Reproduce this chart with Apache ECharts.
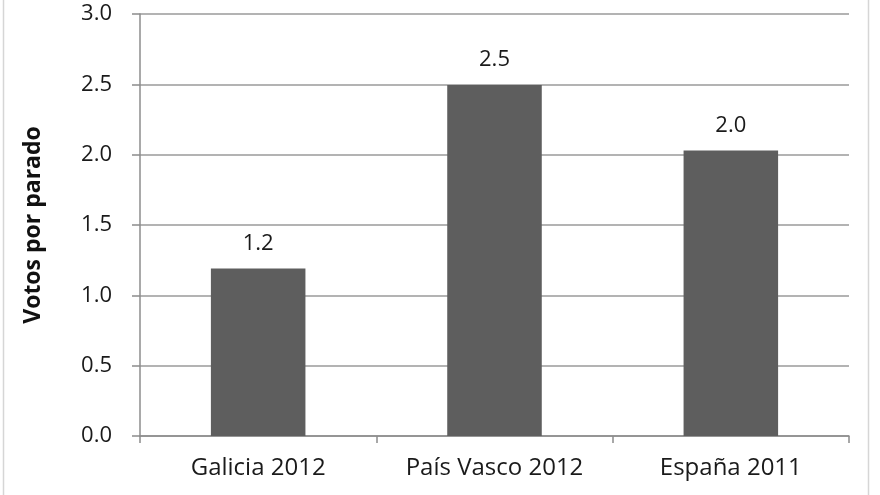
<!DOCTYPE html>
<html><head><meta charset="utf-8">
<script src="https://cdn.jsdelivr.net/npm/echarts@6/dist/echarts.min.js"></script>
<style>html,body{margin:0;padding:0;background:#fff}#c{width:880px;height:495px}</style>
</head><body><div id="c"></div>
<script>
const categories = ['Galicia 2012', 'País Vasco 2012', 'España 2011'];
const values = [1.19, 2.495, 2.03];
const yTicks = [0, 0.5, 1.0, 1.5, 2.0, 2.5, 3.0];
const yName = 'Votos por parado';

const chart = echarts.init(document.getElementById('c'));
const font = 'Open Sans, DejaVu Sans, sans-serif';
chart.setOption({
  animation: false,
  backgroundColor: '#fff',
  grid: { left: 140, right: 31, top: 14, bottom: 59 },
  graphic: [
    { type: 'line', shape: { x1: 3.5, y1: 0, x2: 3.5, y2: 495 }, style: { stroke: '#d6d6d6', lineWidth: 1.5 } },
    { type: 'line', shape: { x1: 868.5, y1: 0, x2: 868.5, y2: 495 }, style: { stroke: '#d6d6d6', lineWidth: 1.5 } }
  ],
  xAxis: {
    type: 'category',
    data: categories,
    axisLine: { lineStyle: { color: '#8c8c8c', width: 1.5 } },
    axisTick: { show: true, length: 7, lineStyle: { color: '#8c8c8c', width: 1.5 } },
    axisLabel: { color: '#1a1a1a', fontSize: 24, fontFamily: font, margin: 20 }
  },
  yAxis: {
    type: 'value',
    min: yTicks[0], max: yTicks[yTicks.length - 1], interval: 0.5,
    name: yName,
    nameLocation: 'middle',
    nameGap: 95,
    nameTextStyle: { fontSize: 23, fontWeight: 'bold', color: '#111', fontFamily: font },
    axisLine: { show: true, lineStyle: { color: '#8c8c8c', width: 1.5 } },
    axisTick: { show: true, length: 8, lineStyle: { color: '#8c8c8c', width: 1.5 } },
    splitLine: { lineStyle: { color: '#9a9a9a', width: 1.5 } },
    axisLabel: { color: '#1a1a1a', fontSize: 22, fontFamily: font, margin: 28,
      formatter: v => v.toFixed(1) }
  },
  series: [{
    type: 'bar',
    data: values,
    barWidth: '40%',
    itemStyle: { color: '#5e5e5e' },
    label: { show: true, position: 'top', distance: 14, color: '#1a1a1a', fontSize: 22, fontFamily: font,
      formatter: p => p.value.toFixed(1) }
  }]
});
</script></body></html>
